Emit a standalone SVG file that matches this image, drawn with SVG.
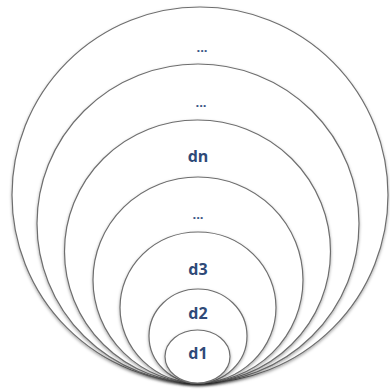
<svg xmlns="http://www.w3.org/2000/svg" width="390" height="390" viewBox="0 0 390 390">
<defs>
<filter id="sh" x="-10%" y="-10%" width="120%" height="125%">
<feDropShadow dx="0" dy="1.5" stdDeviation="1.5" flood-color="#000" flood-opacity="0.35"/>
</filter>
<style>
.ring{fill:#fff;stroke:#6e6e6e;stroke-width:1.2;filter:url(#sh)}
.lbl{font-family:"Open Sans","Liberation Sans",sans-serif;font-weight:bold;font-size:16px;fill:#2f4a78;text-anchor:middle}
.dots{font-family:"Open Sans","Liberation Sans",sans-serif;font-weight:bold;font-size:13px;fill:#3a5585;text-anchor:middle}
</style>
</defs>
<rect width="390" height="390" fill="#fff"/>
<g id="level7"><ellipse class="ring" cx="200" cy="195" rx="188" ry="188"/><text class="dots" x="202" y="52">...</text></g>
<g id="level6"><ellipse class="ring" cx="198" cy="223.5" rx="161" ry="159.5"/><text class="dots" x="201" y="107">...</text></g>
<g id="level5"><ellipse class="ring" cx="197.5" cy="251.5" rx="133" ry="131.5"/><text class="lbl" x="198" y="162">dn</text></g>
<g id="level4"><ellipse class="ring" cx="198" cy="280" rx="105" ry="103"/><text class="dots" x="198" y="219">...</text></g>
<g id="level3"><ellipse class="ring" cx="198" cy="307.5" rx="78" ry="75.5"/><text class="lbl" x="198" y="275">d3</text></g>
<g id="level2"><ellipse class="ring" cx="198" cy="336" rx="49" ry="47"/><text class="lbl" x="198" y="319">d2</text></g>
<g id="level1"><ellipse class="ring" cx="197.5" cy="356.5" rx="32.5" ry="26.5"/><text class="lbl" x="198" y="359">d1</text></g>
</svg>
